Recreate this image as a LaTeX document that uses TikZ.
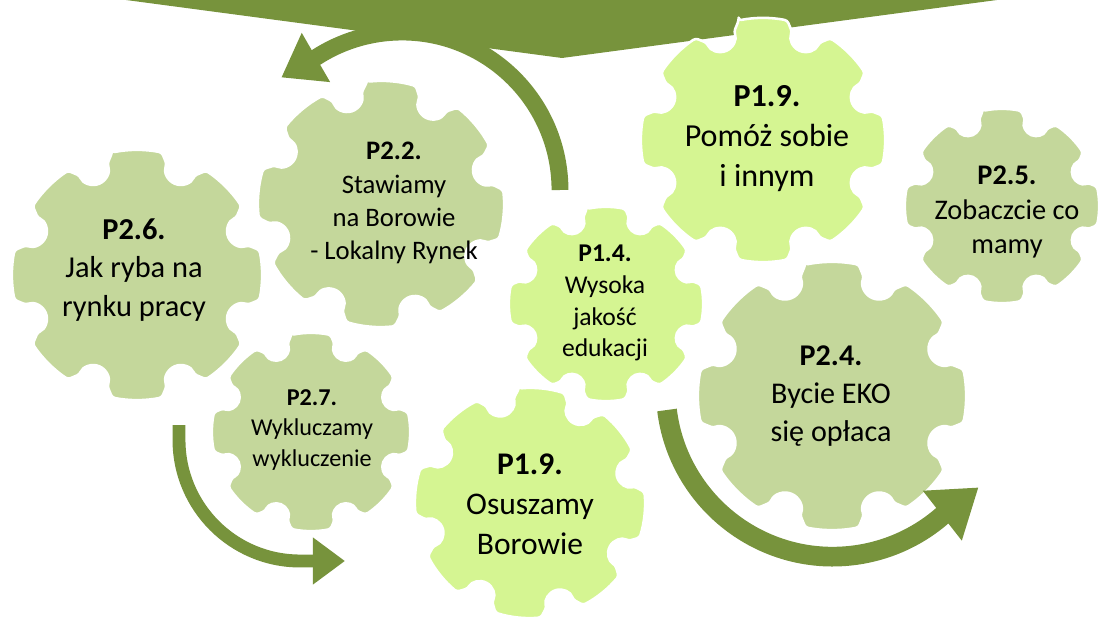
\documentclass[tikz,border=0pt]{standalone}
\usepackage{fontspec}
\setmainfont{Carlito}
\usepackage{xcolor}
\usetikzlibrary{arrows.meta,calc}

\definecolor{darkolive}{HTML}{77933C}
\definecolor{gearsage}{HTML}{C4D79B}
\definecolor{gearlime}{HTML}{D5F592}

% gear=radius/rotation/colour, eight teeth with round notches
\tikzset{
  gearbody/.style={draw=white, line width=1.8pt, line join=round, rounded corners=2pt},
  pics/gear/.style args={#1/#2/#3}{code={
    \fill[gearbody, fill=#3] (#2-11.5:#1)
      \foreach \k in {0,...,7}{
        arc[start angle=#2+45*\k-11.5, end angle=#2+45*\k+11.5, radius=#1]
        -- ($(#2+45*\k+22.5:0.91*#1)+(#2+45*\k-67.5:0.12*#1)$)
        arc[start angle=#2+45*\k-67.5, end angle=#2+45*\k-247.5, radius=0.12*#1]
        -- (#2+45*\k+33.5:#1)
      } -- cycle;
  }},
}

\begin{document}
\begin{tikzpicture}[x=0.025cm, y=-0.025cm,
    gtext/.style={align=center, inner sep=0pt, text=black},
    bigarrow/.style={draw=darkolive, line cap=butt}]
  \useasboundingbox (0,0) rectangle (1101,617);

  % banner at the top
  \fill[darkolive] (126,0) -- (562,58) -- (997,0) -- cycle;

  % gears
  \pic at (137,275) {gear=125/-90/gearsage};
  \pic at (381,204) {gear=123/-85/gearsage};
  \pic at (311,432) {gear=99/-90/gearsage};
  \pic at (606,304) {gear=97/-90/gearlime};
  \pic at (530,503) {gear=115/-84/gearlime};
  \pic at (763,140) {gear=122/-90/gearlime};
  \pic at (1002,206) {gear=97/-90/gearsage};
  \pic at (832,396) {gear=134/-90/gearsage};

  % labels
  \node[gtext, font=\fontsize{21.6}{27.3}\selectfont] (p26) at (134,270)
    {\textbf{P2.6.}\\Jak ryba na\\rynku pracy};
  \node[gtext, font=\fontsize{19}{23.6}\selectfont] (p22) at (394,203)
    {\textbf{P2.2.}\\Stawiamy\\na Borowie\\- Lokalny Rynek};
  \node[gtext, font=\fontsize{18.2}{22.6}\selectfont] (p14) at (605,303)
    {\textbf{P1.4.}\\Wysoka\\jakość\\edukacji};
  \node[gtext, font=\fontsize{22.8}{28.4}\selectfont] (p19a) at (767,139)
    {\textbf{P1.9.}\\Pomóż sobie\\i innym};
  \node[gtext, font=\fontsize{20.2}{24.8}\selectfont] (p25) at (1007,212)
    {\textbf{P2.5.}\\Zobaczcie co\\mamy};
  \node[gtext, font=\fontsize{21.4}{27.3}\selectfont] (p24) at (831,396)
    {\textbf{P2.4.}\\Bycie EKO\\się opłaca};
  \node[gtext, font=\fontsize{17.2}{22}\selectfont] (p27) at (312,430)
    {\textbf{P2.7.}\\Wykluczamy\\wykluczenie};
  \node[gtext, font=\fontsize{22.4}{28.4}\selectfont] (p19b) at (530,504)
    {\textbf{P1.9.}\\Osuszamy\\Borowie};

  % curved arrows
  \coordinate (tailA) at (560,190);
  \coordinate (tailB) at (179,425);
  \coordinate (tailC) at (667,410);
  \draw[bigarrow, line width=12pt, -{Triangle[length=1cm, width=1.35cm]}]
    (tailA) arc[start angle=0, end angle=-123, radius=158] -- ++(150:40);
  \draw[bigarrow, line width=9.2pt, -{Triangle[length=0.8cm, width=1.12cm]}]
    (tailB) -- ++(0,15) arc[start angle=180, end angle=90, radius=121] -- ++(0:45);
  \draw[bigarrow, line width=14pt, -{Triangle[length=1.15cm, width=1.5cm]}]
    (tailC) arc[start angle=173, end angle=49, radius=167] -- ++(-38:46);
\end{tikzpicture}
\end{document}
